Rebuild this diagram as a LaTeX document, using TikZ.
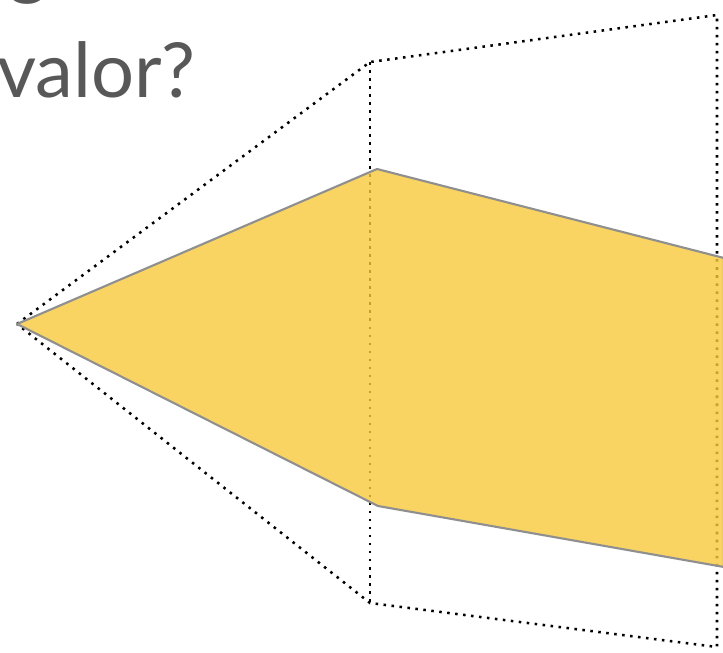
\documentclass[tikz,border=0pt]{standalone}
\usepackage{fontspec}
\setmainfont{Lato}
\usepackage{xcolor}
\definecolor{goldfill}{HTML}{F8C93B}
\definecolor{edgegray}{HTML}{8F8F8F}
\definecolor{textgray}{HTML}{585858}

\begin{document}
\begin{tikzpicture}[
  x=0.025cm, y=-0.025cm,
  frame/.style={draw=black, line width=1.8pt, dash pattern=on 1.8pt off 3.9pt},
  beam/.style={fill=goldfill, fill opacity=0.8, draw=edgegray, line width=1.5pt, line join=round},
  title/.style={text=textgray, font=\fontsize{54}{60}\selectfont, inner sep=0pt, anchor=base west}
]
\useasboundingbox (0,0) rectangle (723,652);
\clip (0,0) rectangle (723,652);

% Corners of the view volume
\coordinate (eye) at (17,324);
\coordinate (nearTop) at (370,62);
\coordinate (nearBot) at (370,603);
\coordinate (farTop) at (717,15);
\coordinate (farBot) at (717,647);

% Corners of the yellow solid
\coordinate (tip) at (17,324);
\coordinate (midTop) at (377,169);
\coordinate (midBot) at (378,506);
\coordinate (endTop) at (724,258);
\coordinate (endBot) at (724,567);

% Text
\node[title] (prev) at (8,-10) {g};
\node[title] (question) at (-3,97) {valor?};

% Dotted frustum
\draw[frame] (eye) -- (nearTop) -- (farTop) -- (farBot) -- (nearBot) -- cycle;
\draw[frame] (nearTop) -- (nearBot);

% Solid
\draw[beam] (tip) -- (midTop) -- (endTop) -- (endBot) -- (midBot) -- cycle;
\end{tikzpicture}
\end{document}
